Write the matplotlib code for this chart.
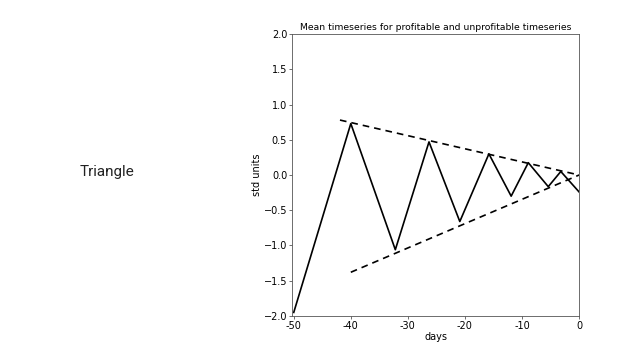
import matplotlib
matplotlib.use("Agg")
import matplotlib.pyplot as plt

days = [-50, -40, -32.2, -26.3, -20.9, -15.8, -11.9, -8.9, -5.4, -3.2, 0]
values = [-1.95, 0.73, -1.06, 0.47, -0.66, 0.30, -0.30, 0.175, -0.165, 0.05, -0.24]

upper_x = [-41.9, 0]
upper_y = [0.78, 0.0]
lower_x = [-40, 0]
lower_y = [-1.38, 0.0]

xticks = [-50, -40, -30, -20, -10, 0]
xticklabels = ['-50', '-40', '-30', '-20', '-10', '0']
yticks = [-2.0, -1.5, -1.0, -0.5, 0.0, 0.5, 1.0, 1.5, 2.0]

fig = plt.figure(figsize=(6.24, 3.55), dpi=100)
fig.text(0.171, 0.515, "Triangle", fontsize=11, family="Roboto", ha="center", va="center", color="#222222")

ax = fig.add_axes([0.468, 0.110, 0.460, 0.794])
ax.plot(days, values, color="black", lw=1.2)
ax.plot(upper_x, upper_y, color="black", lw=1.2, ls=(0, (4, 3)))
ax.plot(lower_x, lower_y, color="black", lw=1.2, ls=(0, (4, 3)))
ax.set_xlim(-50.3, 0)
ax.set_ylim(-2.0, 2.0)
ax.set_xticks(xticks)
ax.set_xticklabels(xticklabels)
ax.set_yticks(yticks)
ax.tick_params(labelsize=7, length=2, width=0.6, pad=1.5, color="#555555")
for s in ax.spines.values():
    s.set_linewidth(0.6)
    s.set_color("#555555")
ax.set_title("Mean timeseries for profitable and unprofitable timeseries", fontsize=6.7, pad=3)
ax.set_xlabel("days", fontsize=7, labelpad=1)
ax.set_ylabel("std units", fontsize=7, labelpad=1)

fig.savefig("out.png", dpi=100)
